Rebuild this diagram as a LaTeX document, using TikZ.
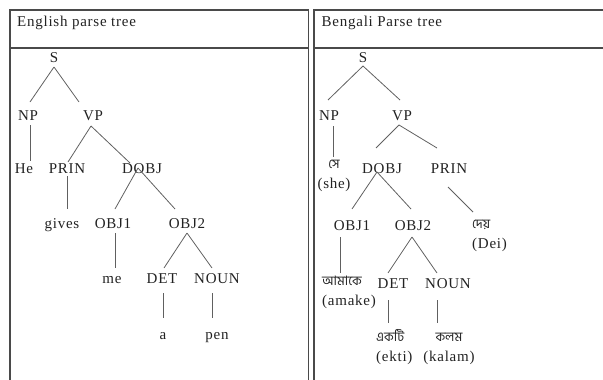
\documentclass[tikz,border=0pt]{standalone}
\usepackage{fontspec}
\setmainfont{Liberation Serif}[LetterSpace=5]
\newfontfamily\bn[Script=Bengali]{Hind Siliguri}
\definecolor{ink}{HTML}{222222}
\definecolor{edge}{HTML}{606060}
\definecolor{frame}{HTML}{4A4A4A}
\newcommand\bw[1]{{\bn\fontsize{13}{20}\selectfont #1}}
\tikzset{
  tn/.style={inner sep=0pt, anchor=base, text=ink, font=\fontsize{15}{20}\selectfont},
  tnl/.style={tn, anchor=base west, align=left},
  tnc/.style={tn, anchor=base, align=center},
  ln/.style={draw=edge, line width=0.8pt},
  fr/.style={draw=frame, line width=1.1pt},
}
\begin{document}
\begin{tikzpicture}[x=1pt,y=-1pt]
\useasboundingbox (0,0) rectangle (603,380);
% table frame
\draw[fr] (10,380) -- (10,10) -- (308.5,10) -- (308.5,380);
\draw[fr] (10,48) -- (308.5,48);
\draw[fr] (603,10) -- (314,10) -- (314,380);
\draw[fr] (314,48) -- (603,48);
% headers
\node[tn, anchor=base west] (hen) at (17,26.5) {English parse tree};
\node[tn, anchor=base west] (hbn) at (321.5,26.5) {Bengali Parse tree};
% English tree
\node[tn] (S) at (54,62) {S};
\node[tn] (NP) at (28,120) {NP};
\node[tn] (VP) at (93,120) {VP};
\node[tn] (He) at (24,173) {He};
\node[tn] (PRIN) at (67,173) {PRIN};
\node[tn] (DOBJ) at (142,173) {DOBJ};
\node[tn] (gives) at (62,228) {gives};
\node[tn] (OBJ1) at (113,228) {OBJ1};
\node[tn] (OBJ2) at (187,228) {OBJ2};
\node[tn] (me) at (112,283) {me};
\node[tn] (DET) at (162,283) {DET};
\node[tn] (NOUN) at (217,283) {NOUN};
\node[tn] (a) at (163,339) {a};
\node[tn] (pen) at (217,339) {pen};
\draw[ln] ([shift={(0,5)}]S.base) -- ([shift={(2,-18)}]NP.base);
\draw[ln] ([shift={(0,5)}]S.base) -- ([shift={(-14,-18)}]VP.base);
\draw[ln] ([shift={(2,5)}]NP.base) -- ([shift={(6,-12)}]He.base);
\draw[ln] ([shift={(-2,6)}]VP.base) -- ([shift={(1,-11)}]PRIN.base);
\draw[ln] ([shift={(-2,6)}]VP.base) -- ([shift={(-12,-10)}]DOBJ.base);
\draw[ln] ([shift={(0,3)}]PRIN.base) -- ([shift={(5,-19)}]gives.base);
\draw[ln] ([shift={(-4,-5)}]DOBJ.base) -- ([shift={(2,-19)}]OBJ1.base);
\draw[ln] ([shift={(-4,-5)}]DOBJ.base) -- ([shift={(-12,-19)}]OBJ2.base);
\draw[ln] ([shift={(2,5)}]OBJ1.base) -- ([shift={(3,-15)}]me.base);
\draw[ln] ([shift={(0,5)}]OBJ2.base) -- ([shift={(2,-15)}]DET.base);
\draw[ln] ([shift={(0,5)}]OBJ2.base) -- ([shift={(-5,-15)}]NOUN.base);
\draw[ln] ([shift={(1,10)}]DET.base) -- ([shift={(0,-21)}]a.base);
\draw[ln] ([shift={(-5,10)}]NOUN.base) -- ([shift={(-5,-21)}]pen.base);
% Bengali tree
\node[tn] (bS) at (363,62) {S};
\node[tn] (bNP) at (329,120) {NP};
\node[tn] (bVP) at (402,120) {VP};
\node[tnc] (bshe) at (334,188) {\bw{সে}\\(she)};
\node[tn] (bDOBJ) at (382,173) {DOBJ};
\node[tn] (bPRIN) at (449,173) {PRIN};
\node[tn] (bOBJ1) at (352,230) {OBJ1};
\node[tn] (bOBJ2) at (413,230) {OBJ2};
\node[tnl] (bDei) at (472,248) {\bw{দেয়}\\(Dei)};
\node[tnl] (bamake) at (322,305) {\bw{আমাকে}\\(amake)};
\node[tn] (bDET) at (393,288) {DET};
\node[tn] (bNOUN) at (448,288) {NOUN};
\node[tnl] (bekti) at (376,361) {\bw{একটি}\\(ekti)};
\node[tnc] (bkalam) at (449,361) {\bw{কলম}\\(kalam)};
\draw[ln] ([shift={(0,4)}]bS.base) -- ([shift={(-1,-20)}]bNP.base);
\draw[ln] ([shift={(0,4)}]bS.base) -- ([shift={(-2,-20)}]bVP.base);
\draw[ln] ([shift={(4,6)}]bNP.base) -- ([shift={(-1,-31)}]bshe.base);
\draw[ln] ([shift={(-3,5)}]bVP.base) -- ([shift={(-6,-25)}]bDOBJ.base);
\draw[ln] ([shift={(-3,5)}]bVP.base) -- ([shift={(-12,-25)}]bPRIN.base);
\draw[ln] ([shift={(-5,-1)}]bDOBJ.base) -- ([shift={(0,-21)}]bOBJ1.base);
\draw[ln] ([shift={(-5,-1)}]bDOBJ.base) -- ([shift={(-2,-21)}]bOBJ2.base);
\draw[ln] ([shift={(-1,14)}]bPRIN.base) -- ([shift={(1,-36)}]bDei.base west);
\draw[ln] ([shift={(-12,7)}]bOBJ1.base) -- ([shift={(18,-32)}]bamake.base west);
\draw[ln] ([shift={(-1,7)}]bOBJ2.base) -- ([shift={(-5,-15)}]bDET.base);
\draw[ln] ([shift={(-1,7)}]bOBJ2.base) -- ([shift={(-11,-15)}]bNOUN.base);
\draw[ln] ([shift={(-5,12)}]bDET.base) -- ([shift={(12,-38)}]bekti.base west);
\draw[ln] ([shift={(-11,12)}]bNOUN.base) -- ([shift={(-12,-38)}]bkalam.base);
\end{tikzpicture}
\end{document}
